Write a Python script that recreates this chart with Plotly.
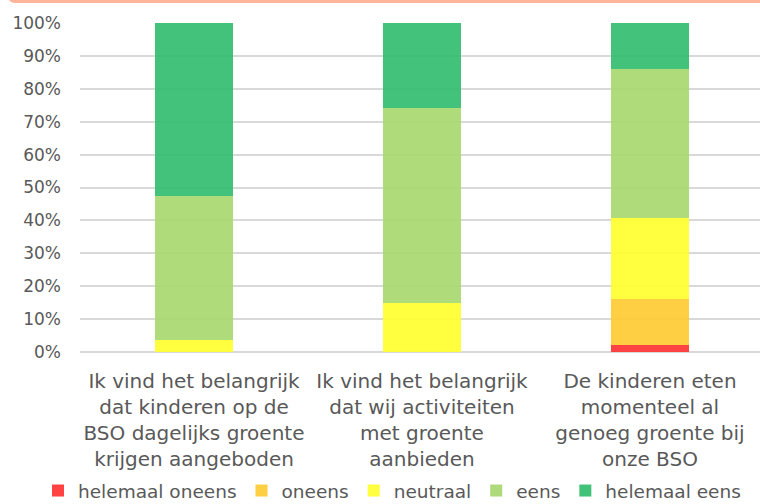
import plotly.graph_objects as go

categories = [
    "Ik vind het belangrijk<br>dat kinderen op de<br>BSO dagelijks groente<br>krijgen aangeboden",
    "Ik vind het belangrijk<br>dat wij activiteiten<br>met groente<br>aanbieden",
    "De kinderen eten<br>momenteel al<br>genoeg groente bij<br>onze BSO",
]
series_names = ["helemaal oneens", "oneens", "neutraal", "eens", "helemaal eens"]
helemaal_oneens = [0.0, 0.0, 2.2]
oneens = [0.0, 0.0, 14.0]
neutraal = [3.5, 15.0, 24.5]
eens = [43.9, 59.3, 45.3]
helemaal_eens = [52.6, 25.7, 14.0]
series_values = [helemaal_oneens, oneens, neutraal, eens, helemaal_eens]
series_colors = ["#FF2E2E", "#FFCA2F", "#FFFF2B", "#A6D76D", "#2EBB6B"]
y_ticks = [0, 10, 20, 30, 40, 50, 60, 70, 80, 90, 100]
y_tick_labels = [f"{v}%" for v in y_ticks]

FONT = "DejaVu Sans"
GRAY = "#595959"

fig = go.Figure()
for name, vals, col in zip(series_names, series_values, series_colors):
    fig.add_trace(go.Bar(
        x=categories, y=vals, name=name,
        marker=dict(color=col, line=dict(width=0)),
        opacity=0.9, width=0.345,
    ))

W, H = 760, 504
ml, mr, mt, mb = 80, 0, 23, 152
pw, ph = W - ml - mr, H - mt - mb

def px_x(p):
    return (p - ml) / pw

def px_y(p):
    return (H - mb - p) / ph

border_path = (
    f"M {px_x(9)},{px_y(0)} L {px_x(W)},{px_y(0)} L {px_x(W)},{px_y(3)} "
    f"L {px_x(15)},{px_y(3)} Q {px_x(11)},{px_y(3)} {px_x(9)},{px_y(0)} Z"
)

fig.update_layout(
    width=W, height=H,
    margin=dict(l=ml, r=mr, t=mt, b=mb, autoexpand=False),
    barmode="stack",
    paper_bgcolor="white", plot_bgcolor="white",
    font=dict(family=FONT, color=GRAY),
    showlegend=True,
    legend=dict(
        orientation="h", xref="paper", yref="paper",
        x=px_x(38), xanchor="left", y=px_y(491), yanchor="middle",
        font=dict(family=FONT, size=18.5, color=GRAY),
        itemwidth=30, traceorder="normal",
    ),
    xaxis=dict(
        range=[-0.5, 2.4825], showgrid=False, showline=False, zeroline=False,
        tickfont=dict(family=FONT, size=20, color=GRAY), ticks="",
        ticklabelstandoff=15, automargin=False,
        fixedrange=True,
    ),
    yaxis=dict(
        range=[0, 100], tickmode="array", tickvals=y_ticks, ticktext=y_tick_labels,
        showgrid=True, gridcolor="#D9D9D9", gridwidth=1.5,
        zeroline=True, zerolinecolor="#D9D9D9", zerolinewidth=1.5,
        showline=False, ticks="", ticklabelstandoff=18, automargin=False,
        tickfont=dict(family=FONT, size=17, color=GRAY),
        fixedrange=True,
    ),
    shapes=[dict(type="path", xref="paper", yref="paper", path=border_path,
                 fillcolor="#FFB49A", line=dict(width=0), layer="above")],
)

fig.write_html(
    "out.html",
    config={"displayModeBar": False},
    post_script="document.body.style.margin='0';document.body.style.overflow='hidden';",
)
